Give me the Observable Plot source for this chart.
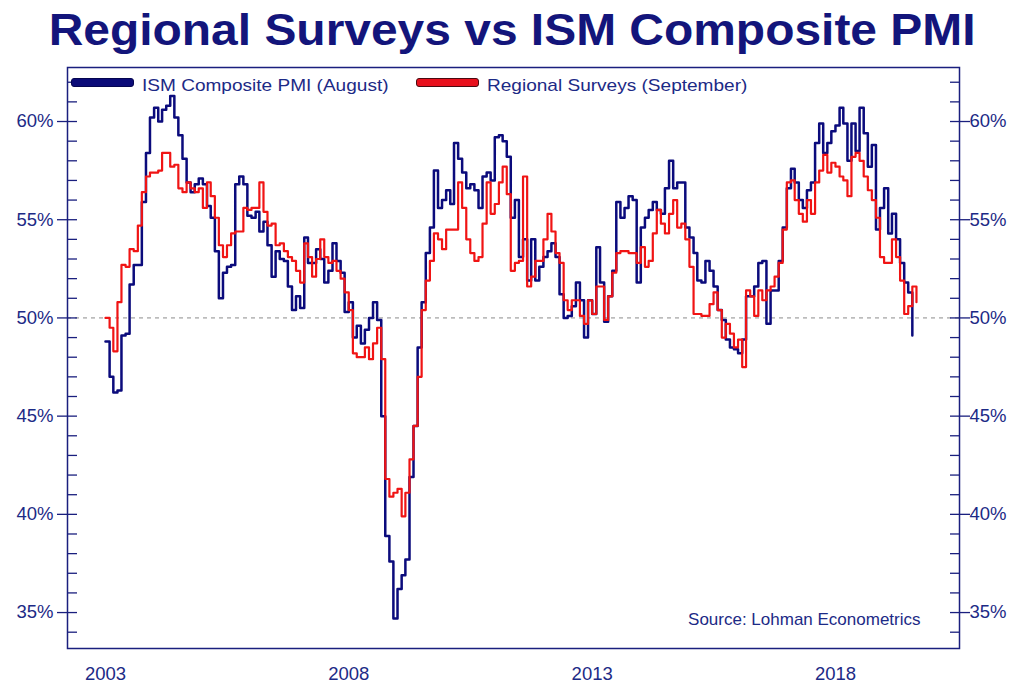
<!DOCTYPE html>
<html>
<head>
<meta charset="utf-8">
<script src="https://cdn.jsdelivr.net/npm/d3@7"></script>
<script src="https://cdn.jsdelivr.net/npm/@observablehq/plot@0.6"></script>
<style>
  body { margin: 0; background: #fff; font-family: "Liberation Sans", Arial, sans-serif; }
  #wrap { position: relative; width: 1024px; height: 691px; overflow: hidden; background: #fff; }
  #title { height: 60px; box-sizing: border-box; padding-top: 7px; text-align: center; white-space: nowrap;
           font-weight: bold; font-size: 45px; line-height: 45px; color: #13157b; }
  #title span { display: inline-block; transform: scaleX(1.065); }
  .lg { position: absolute; font-size: 17px; color: #1c2a86; line-height: 17px; white-space: nowrap;
        transform: scaleX(1.12); transform-origin: left center; }
  .sw { position: absolute; height: 7px; border-radius: 3px; }
</style>
</head>
<body>
<div id="wrap">
  <div id="title"><span>Regional Surveys vs ISM Composite PMI</span></div>
  <div id="chart"></div>
  <div class="sw" style="left:71px; top:78px; width:61px; background:#0b0b78; border:1px solid #050550;"></div>
  <div class="lg" style="left:142px; top:76.5px;">ISM Composite PMI (August)</div>
  <div class="sw" style="left:416px; top:78px; width:61px; background:#e8101c; border:1px solid #4a0a10;"></div>
  <div class="lg" style="left:487px; top:76.5px;">Regional Surveys (September)</div>
</div>
<script>
// ---- data (monthly, starting January 2003) ----
const startMonth = "2003-01-01";

const ismValues = [
  48.8, 47.0, 46.2, 46.3, 49.1, 49.2, 51.7, 52.7, 52.7, 55.9, 58.4, 60.2,
  60.7, 60.0, 60.6, 60.8, 61.3, 60.2, 59.3, 58.1, 56.9, 56.4, 56.8, 57.1,
  56.8, 55.7, 55.1, 53.4, 51.0, 52.3, 52.6, 52.7, 56.8, 57.2, 56.8, 55.2,
  55.1, 55.4, 54.4, 54.9, 53.7, 52.1, 53.4, 53.0, 52.9, 51.6, 50.4, 51.1,
  50.5, 54.1, 52.8, 52.8, 53.5, 53.0, 51.8, 52.4, 53.8, 52.9, 52.3, 50.3,
  50.8, 49.0, 49.6, 48.7, 49.4, 50.0, 50.8, 49.9, 45.0, 38.9, 37.6, 34.7,
  36.2, 36.9, 37.7, 41.9, 44.5, 48.5, 50.8, 53.3, 54.6, 57.5, 55.6, 56.0,
  56.5, 55.8, 58.9, 58.1, 57.4, 56.6, 56.8, 56.5, 55.6, 57.2, 57.4, 57.0,
  59.2, 59.3, 59.0, 58.2, 55.1, 56.0, 53.1, 54.0, 51.9, 54.0, 51.9, 52.6,
  53.1, 53.4, 53.8, 53.1, 51.2, 50.0, 50.1, 50.6, 51.8, 50.9, 49.0, 50.9,
  50.2, 53.6, 51.8, 49.8, 51.1, 52.4, 55.9, 55.1, 55.6, 56.2, 56.0, 51.8,
  54.6, 55.1, 55.5, 55.9, 55.5, 55.3, 56.6, 58.0, 56.6, 56.9, 56.9, 54.6,
  54.1, 53.3, 51.9, 51.8, 52.9, 52.4, 51.6, 50.4, 49.9, 48.9, 48.5, 48.4,
  48.2, 48.9, 51.1, 51.1, 51.6, 52.8, 52.9, 49.7, 51.4, 51.4, 52.9, 54.6,
  56.6, 57.6, 56.9, 56.0, 55.6, 56.5, 56.9, 58.9, 59.9, 58.4, 58.9, 59.5,
  59.8, 60.7, 59.9, 58.0, 59.9, 58.5, 60.7, 59.4, 57.7, 58.8, 54.5, 55.6,
  56.6, 54.3, 55.3, 54.0, 52.8, 51.8, 51.3, 49.1
];

const regionalValues = [
  50.0, 49.5, 48.3, 50.8, 52.7, 52.6, 53.5, 53.4, 54.7, 56.4, 57.2, 57.4,
  57.4, 57.5, 58.4, 58.4, 57.7, 57.8, 56.6, 56.4, 56.9, 56.6, 56.4, 56.6,
  55.6, 56.9, 56.2, 55.1, 53.7, 53.1, 53.7, 54.3, 54.4, 54.4, 55.6, 55.5,
  55.6, 55.6, 56.9, 55.4, 54.7, 54.8, 53.7, 53.8, 53.4, 53.1, 52.9, 52.4,
  51.8, 53.8, 53.1, 52.1, 53.0, 54.0, 53.1, 52.8, 52.9, 52.4, 52.0, 51.3,
  50.4, 48.2, 48.0, 48.0, 48.5, 47.9, 48.7, 49.5, 47.9, 41.8, 40.9, 41.1,
  41.3, 39.9, 41.1, 42.8, 44.5, 47.0, 50.4, 51.9, 52.9, 54.3, 54.0, 53.5,
  54.5, 54.5, 54.5, 56.9, 55.6, 54.0, 53.3, 52.9, 53.1, 54.8, 56.9, 55.3,
  55.8, 56.9, 57.7, 56.3, 52.4, 52.8, 52.9, 57.2, 51.6, 52.1, 52.9, 52.9,
  54.0, 55.3, 54.4, 53.3, 52.8, 50.9, 50.4, 50.9, 50.9, 50.1, 49.7, 50.9,
  50.2, 51.6, 51.6, 49.9, 51.1, 52.3, 53.3, 53.4, 53.4, 53.3, 53.3, 52.8,
  53.6, 52.6, 52.9, 54.3, 55.5, 54.8, 54.3, 55.3, 56.0, 54.6, 54.8, 54.0,
  52.6, 50.2, 50.2, 50.1, 50.1, 50.7, 51.3, 50.4, 49.0, 49.7, 49.2, 48.5,
  48.9, 47.5, 51.4, 51.1, 50.1, 51.4, 50.9, 51.4, 51.6, 52.1, 52.8, 54.5,
  56.9, 57.0, 56.0, 55.3, 54.9, 56.0, 55.3, 56.9, 57.5, 58.3, 57.4, 57.9,
  57.7, 57.2, 57.0, 56.2, 58.2, 58.4, 58.0, 57.2, 56.5, 56.0, 55.1, 53.1,
  52.8, 52.8, 54.0, 53.1, 51.9, 50.2, 50.6, 51.6, 50.8
];

const xTickYears = ["2003-01-01", "2008-01-01", "2013-01-01", "2018-01-01"];
const yMajorTicks = [35, 40, 45, 50, 55, 60];
const yMinorTicks = [34, 36, 37, 38, 39, 41, 42, 43, 44, 46, 47, 48, 49, 51, 52, 53, 54, 56, 57, 58, 59, 61, 62];
const referenceLevel = [50];
const sourceNote = ["Source: Lohman Econometrics"];

// ---- build tables ----
const start = new Date(startMonth);
const toRows = vals => vals.map((v, i) => ({date: d3.utcMonth.offset(start, i), value: v}));
const ismRows = toRows(ismValues);
const regRows = toRows(regionalValues);
const xTicks = xTickYears.map(s => new Date(s));

const navy = "#1a1f7e";
const labelColor = "#1c2a86";

const chart = Plot.plot({
  width: 1024,
  height: 631,
  marginLeft: 67,
  marginRight: 65,
  marginTop: 7,
  marginBottom: 43,
  style: {fontFamily: "'Liberation Sans', Arial, sans-serif", fontSize: "18px", background: "#fff", color: labelColor},
  x: {type: "utc", domain: [new Date("2002-03-22"), new Date("2020-07-20")]},
  y: {domain: [33.17, 62.75]},
  marks: [
    Plot.ruleY(referenceLevel, {stroke: "#8c8c8c", strokeDasharray: "4,4", strokeWidth: 1}),
    Plot.line(ismRows, {x: "date", y: "value", stroke: "#0b0b7c", strokeWidth: 2.5, curve: "step-after"}),
    Plot.line(regRows, {x: "date", y: "value", stroke: "#f01414", strokeWidth: 2.2, curve: "step-after"}),
    Plot.frame({stroke: navy, strokeWidth: 1.5}),
    // left axis
    Plot.axisY(yMinorTicks, {anchor: "left", tickSize: 10, dx: 10, fill: "none", stroke: navy, strokeWidth: 1.3, label: null}),
    Plot.axisY(yMajorTicks, {anchor: "left", tickSize: 20, dx: 10, fill: "none", stroke: navy, strokeWidth: 1.3, label: null}),
    Plot.axisY(yMajorTicks, {anchor: "left", tickSize: 0, tickPadding: 14, tickFormat: d => d + "%", fill: labelColor, fontSize: 18.5, label: null}),
    // right axis
    Plot.axisY(yMinorTicks, {anchor: "right", tickSize: 10, dx: -10, fill: "none", stroke: navy, strokeWidth: 1.3, label: null}),
    Plot.axisY(yMajorTicks, {anchor: "right", tickSize: 20, dx: -10, fill: "none", stroke: navy, strokeWidth: 1.3, label: null}),
    Plot.axisY(yMajorTicks, {anchor: "right", tickSize: 0, tickPadding: 10, tickFormat: d => d + "%", fill: labelColor, fontSize: 18.5, label: null}),
    // x axis
    Plot.axisX(xTicks, {anchor: "bottom", tickSize: 0, tickPadding: 18, tickFormat: d3.utcFormat("%Y"), fill: labelColor, fontSize: 18.5, label: null}),
    Plot.text(sourceNote, {frameAnchor: "bottom-right", dx: -39, dy: -24, textAnchor: "end", fill: labelColor, fontSize: 17})
  ]
});
document.getElementById("chart").appendChild(chart);
</script>
</body>
</html>
